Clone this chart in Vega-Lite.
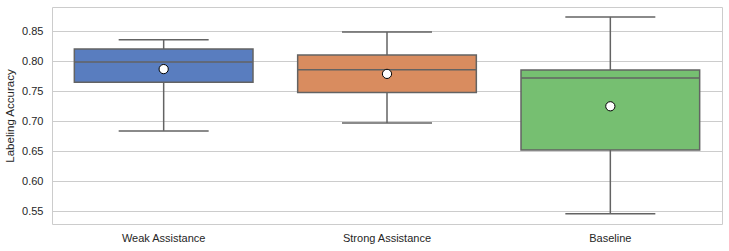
{
  "$schema": "https://vega.github.io/schema/vega-lite/v6.json",
  "width": 670,
  "height": 217,
  "autosize": {"type": "none"},
  "padding": {"left": 52, "top": 7, "right": 7, "bottom": 27},
  "background": "white",
  "config": {
    "view": {"stroke": "#cccccc", "strokeWidth": 1},
    "font": "Liberation Sans",
    "axis": {"labelFont": "Liberation Sans", "titleFont": "Liberation Sans", "labelColor": "#262626", "titleColor": "#262626", "labelFontSize": 11, "titleFontSize": 11.5, "titleFontWeight": "normal", "labelOverlap": false}
  },
  "data": {
    "values": [
      {"group": "Weak Assistance", "lower": 0.684, "q1": 0.765, "median": 0.799, "q3": 0.8205, "upper": 0.836, "mean": 0.787},
      {"group": "Strong Assistance", "lower": 0.697, "q1": 0.748, "median": 0.786, "q3": 0.8105, "upper": 0.849, "mean": 0.779},
      {"group": "Baseline", "lower": 0.546, "q1": 0.652, "median": 0.772, "q3": 0.7855, "upper": 0.874, "mean": 0.725}
    ]
  },
  "encoding": {
    "x": {
      "field": "group", "type": "nominal",
      "sort": ["Weak Assistance", "Strong Assistance", "Baseline"],
      "scale": {"paddingInner": 0, "paddingOuter": 0},
      "axis": {"title": null, "labelAngle": 0, "ticks": false, "domain": false, "grid": false, "labelPadding": 8}
    }
  },
  "layer": [
    {
      "mark": {"type": "rule", "color": "#636363", "strokeWidth": 1.5},
      "encoding": {
        "y": {"field": "lower", "type": "quantitative",
          "scale": {"domain": [0.5288, 0.8905], "nice": false, "zero": false},
          "axis": {"title": "Labeling Accuracy", "values": [0.55, 0.6, 0.65, 0.7, 0.75, 0.8, 0.85], "tickCount": 20, "format": ".2f", "labelOverlap": false, "ticks": false, "domain": false, "grid": true, "gridColor": "#cccccc", "gridWidth": 1, "labelPadding": 9, "titlePadding": 6}},
        "y2": {"field": "upper"}
      }
    },
    {
      "mark": {"type": "bar", "width": {"band": 0.8}, "stroke": "#636363", "strokeWidth": 1.5, "opacity": 1},
      "encoding": {
        "y": {"field": "q1", "type": "quantitative"},
        "y2": {"field": "q3"},
        "color": {"field": "group", "type": "nominal", "legend": null,
          "scale": {"domain": ["Weak Assistance", "Strong Assistance", "Baseline"], "range": ["#597dbf", "#d98c5f", "#76bf71"]}}
      }
    },
    {
      "mark": {"type": "tick", "color": "#636363", "size": 178, "thickness": 1.5, "opacity": 1},
      "encoding": {"y": {"field": "median", "type": "quantitative"}}
    },
    {
      "mark": {"type": "tick", "color": "#636363", "size": 90, "thickness": 1.5, "opacity": 1},
      "encoding": {"y": {"field": "upper", "type": "quantitative"}}
    },
    {
      "mark": {"type": "tick", "color": "#636363", "size": 90, "thickness": 1.5, "opacity": 1},
      "encoding": {"y": {"field": "lower", "type": "quantitative"}}
    },
    {
      "mark": {"type": "point", "shape": "circle", "filled": true, "fill": "white", "stroke": "black", "strokeWidth": 1, "size": 85, "opacity": 1},
      "encoding": {"y": {"field": "mean", "type": "quantitative"}}
    }
  ]
}
